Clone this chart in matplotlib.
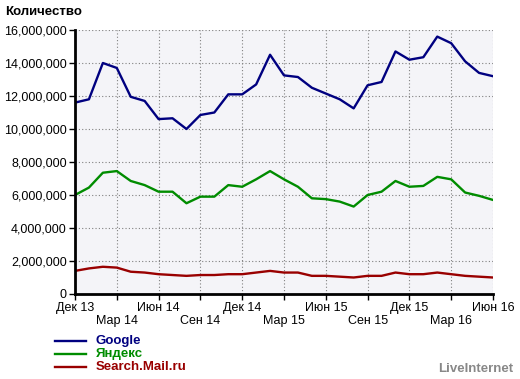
import matplotlib.pyplot as plt
from matplotlib.ticker import FuncFormatter, FixedLocator

months = ['Дек 13', 'Янв 14', 'Фев 14', 'Мар 14', 'Апр 14', 'Май 14', 'Июн 14',
          'Июл 14', 'Авг 14', 'Сен 14', 'Окт 14', 'Ноя 14', 'Дек 14',
          'Янв 15', 'Фев 15', 'Мар 15', 'Апр 15', 'Май 15', 'Июн 15',
          'Июл 15', 'Авг 15', 'Сен 15', 'Окт 15', 'Ноя 15', 'Дек 15',
          'Янв 16', 'Фев 16', 'Мар 16', 'Апр 16', 'Май 16', 'Июн 16']

google = [11.6, 11.8, 14.0, 13.7, 11.95, 11.7, 10.6, 10.65, 10.0, 10.85, 11.0,
          12.1, 12.1, 12.7, 14.5, 13.25, 13.15, 12.5, 12.15, 11.8, 11.25, 12.65,
          12.85, 14.7, 14.2, 14.35, 15.6, 15.2, 14.1, 13.4, 13.2]
yandex = [6.0, 6.45, 7.35, 7.45, 6.85, 6.6, 6.2, 6.2, 5.5, 5.9, 5.9, 6.6, 6.5,
          6.95, 7.45, 6.95, 6.5, 5.8, 5.75, 5.6, 5.3, 6.0, 6.2, 6.85, 6.5, 6.55,
          7.1, 6.95, 6.15, 5.95, 5.7]
mail = [1.4, 1.55, 1.65, 1.6, 1.35, 1.3, 1.2, 1.15, 1.1, 1.15, 1.15, 1.2, 1.2,
        1.3, 1.4, 1.3, 1.3, 1.1, 1.1, 1.05, 1.0, 1.1, 1.1, 1.3, 1.2, 1.2, 1.3,
        1.2, 1.1, 1.05, 1.0]

series = [('Google', google, '#000080'),
          ('Яндекс', yandex, '#008c00'),
          ('Search.Mail.ru', mail, '#990000')]

plt.rcParams['font.family'] = ['Liberation Sans', 'DejaVu Sans']

fig = plt.figure(figsize=(5.2, 3.79), dpi=100)
ax = fig.add_axes([75 / 520, 1 - 294 / 379, 418 / 520, 264 / 379])
ax.set_facecolor('#f4f4f8')

x = list(range(len(months)))
for name, vals, col in series:
    ax.plot(x, [v * 1e6 for v in vals], color=col, lw=1.7)

ax.set_xlim(0, len(months) - 1)
ax.set_ylim(0, 16e6)
ax.yaxis.set_major_locator(FixedLocator([i * 2e6 for i in range(9)]))
ax.yaxis.set_major_formatter(FuncFormatter(lambda v, p: format(int(v), ',')))

major = list(range(0, 31, 6))
minor = list(range(3, 30, 6))
ax.set_xticks(major)
ax.set_xticklabels([months[i] for i in major])
ax.set_xticks(minor, minor=True)
ax.set_xticklabels([months[i] for i in minor], minor=True)
ax.tick_params(axis='x', which='major', length=4, width=1, pad=2, labelsize=9)
ax.tick_params(axis='x', which='minor', length=4, width=1, pad=11, labelsize=9)
ax.tick_params(axis='y', length=4, width=1, pad=2, labelsize=9)

ax.grid(True, which='both', axis='x', color='#808080', ls=(0, (1, 2)), lw=0.8)
ax.grid(True, axis='y', color='#808080', ls=(0, (1, 2)), lw=0.8)
for s in ['top', 'right']:
    ax.spines[s].set_visible(False)
for s in ['left', 'bottom']:
    ax.spines[s].set_linewidth(2)

fig.text(5 / 520, 1 - 12 / 379, 'Количество', fontsize=9.5, fontweight='bold',
         va='center', ha='left')

# legend drawn by hand like the original widget
for i, (name, vals, col) in enumerate(series):
    yy = 1 - (341 + 13 * i) / 379
    fig.add_artist(plt.Line2D([55 / 520, 86 / 520], [yy, yy], color=col, lw=1.7))
    fig.text(96 / 520, yy, name, color=col, fontsize=9.5, fontweight='bold',
             va='center', ha='left')

fig.text(513 / 520, 1 - 369 / 379, 'LiveInternet', color='#888888', fontsize=9.5,
         fontweight='bold', va='center', ha='right')

fig.savefig('out.png', dpi=100)
